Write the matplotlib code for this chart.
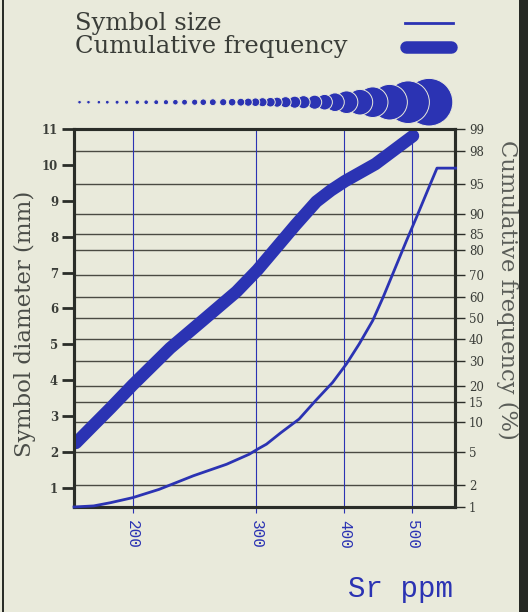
from statistics import NormalDist

import matplotlib
matplotlib.use("Agg")
import matplotlib.pyplot as plt
from matplotlib.patches import Rectangle
from matplotlib.ticker import FixedLocator, NullLocator
import numpy as np

# symbol size curve (left axis, mm)
sr_size = [165, 176, 186, 200, 218, 244, 272, 293, 301, 310, 325, 345, 364, 385,
           403, 420, 439, 454, 490, 506, 528, 542, 576]
size_mm = [0.47, 0.50, 0.59, 0.73, 0.96, 1.34, 1.66, 1.94, 2.08, 2.22, 2.54, 2.92,
           3.43, 3.94, 4.46, 5.01, 5.66, 6.3, 7.87, 8.51, 9.38, 9.91, 9.91]

# cumulative frequency curve (right axis, %)
sr_cum = [166, 176, 186, 200, 226, 252, 281, 301, 341, 365, 383, 401, 443, 501]
cum_pct = [6.2, 9.4, 13.4, 20.5, 35.5, 49.0, 62.7, 72.3, 87.4, 92.4, 94.2, 95.4, 97.1, 98.75]

# symbol row above the plot: Sr position and symbol diameter (px)
sym_sr = [168, 173, 179, 184, 190, 196, 203, 209, 216, 223, 230, 237, 245, 252, 260,
          269, 277, 285, 292, 299, 306, 314, 321, 330, 340, 350, 363, 375, 388, 403,
          421, 439, 464, 493, 528]
sym_diam = [3, 3, 3, 3.2, 3.4, 3.6, 3.8, 4, 4.3, 4.6, 5, 5.3, 5.6, 6, 6.3,
            6.6, 7, 7.3, 7.6, 8, 8.5, 9, 9.5, 10.5, 11.5, 12.5, 13.5, 15, 18, 22,
            25, 30, 35, 42, 47]

x_ticks = [200, 300, 400, 500]
left_ticks = list(range(1, 12))
right_ticks = [1, 2, 5, 10, 15, 20, 30, 40, 50, 60, 70, 80, 85, 90, 95, 98, 99]

BG = "#e9eadb"
BLUE = "#2b33b3"
INK = "#3a3d38"
nd = NormalDist()

_ppf = np.vectorize(lambda v: nd.inv_cdf(v / 100.0), otypes=[float])
_cdf = np.vectorize(lambda v: nd.cdf(v) * 100.0, otypes=[float])


def probit(p):
    p = np.clip(np.asarray(p, dtype=float), 1e-6, 100 - 1e-6)
    return _ppf(p)


def probit_inv(z):
    return _cdf(np.asarray(z, dtype=float))


fig = plt.figure(figsize=(5.28, 6.12), dpi=100, facecolor=BG)

ax1 = fig.add_axes([0.1402, 0.1716, 0.7216, 0.6176])
ax2 = ax1.twinx()
ax1.set_zorder(ax2.get_zorder() + 1)
ax1.patch.set_visible(False)
ax2.set_facecolor(BG)

# x axis
ax1.set_xscale("log")
ax1.set_xlim(165, 575)
ax1.xaxis.set_major_locator(FixedLocator(x_ticks))
ax1.xaxis.set_minor_locator(NullLocator())
ax1.set_xticklabels([str(t) for t in x_ticks], rotation=-90, color=BLUE,
                    family="Liberation Mono", fontsize=11.5, va="top", ha="center")
ax1.tick_params(axis="x", colors=BLUE, length=4.5, width=0.8, pad=5, labelcolor=BLUE)
ax1.grid(axis="x", color=BLUE, linewidth=0.8)

# left axis
ax1.set_ylim(0.47, 11)
ax1.set_yticks(left_ticks)
ax1.set_yticklabels([str(t) for t in left_ticks], family="DejaVu Serif",
                    fontsize=8.5, color=INK, fontweight="bold")
ax1.tick_params(axis="y", length=8.5, width=2, color="#2a2d28", pad=3)
ax1.set_ylabel("Symbol diameter (mm)", family="DejaVu Serif", fontsize=16.5,
               color="#4a4d48", va="center", ha="center", rotation_mode="anchor")
ax1.yaxis.set_label_coords(-0.1286, 0.484)

# right axis, probability scale
ax2.set_yscale("function", functions=(probit, probit_inv))
ax2.set_ylim(1, 99)
ax2.yaxis.set_major_locator(FixedLocator(right_ticks))
ax2.yaxis.set_minor_locator(NullLocator())
ax2.set_yticklabels([str(t) for t in right_ticks], family="DejaVu Serif",
                    fontsize=8.5, color=INK)
ax2.tick_params(axis="y", length=7, width=1, color="#2a2d28", pad=3)
ax2.grid(axis="y", color="#4a4a42", linewidth=1)
ax2.set_ylabel("Cumulative frequency (%)", family="DejaVu Serif", fontsize=16.3,
               color="#5a5d58", rotation=-90, va="center", ha="center",
               rotation_mode="anchor")
ax2.yaxis.set_label_coords(1.1365, 0.574)

for ax in (ax1, ax2):
    for s in ax.spines.values():
        s.set_linewidth(2.2)
        s.set_color("#2a2d28")

ax2.plot(sr_cum, cum_pct, color=BLUE, linewidth=9, solid_capstyle="round",
         solid_joinstyle="round", zorder=3)
ax1.plot(sr_size, size_mm, color=BLUE, linewidth=2, zorder=3, clip_on=False)

# symbol row, smaller symbols drawn on top of the larger ones
axr = fig.add_axes([0.1402, 0.797, 0.7216, 0.072], sharex=ax1)
axr.set_ylim(0, 1)
axr.axis("off")
d = np.array(sym_diam)[::-1]
axr.scatter(sym_sr[::-1], [0.5] * len(sym_sr), s=((d + 0.6) * 0.72) ** 2,
            color=BLUE, edgecolors=BG, linewidths=0.7, clip_on=False, zorder=3)

# legend
fig.text(75 / 528, 1 - 30 / 612, "Symbol size", family="DejaVu Serif",
         fontsize=17.5, color=INK, va="baseline")
fig.text(75 / 528, 1 - 53 / 612, "Cumulative frequency", family="DejaVu Serif",
         fontsize=17.5, color=INK, va="baseline")
fig.add_artist(plt.Line2D([405 / 528, 453 / 528], [1 - 23 / 612, 1 - 23 / 612],
                          color=BLUE, linewidth=2))
fig.add_artist(plt.Line2D([406 / 528, 451 / 528], [1 - 47 / 612, 1 - 47 / 612],
                          color=BLUE, linewidth=9, solid_capstyle="round"))

fig.text(453 / 528, 1 - 597 / 612, "Sr ppm", family="Liberation Mono",
         fontsize=21, color=BLUE, ha="right", va="baseline")

# frame
fig.add_artist(Rectangle((2 / 528, 0), 2 / 528, 1, transform=fig.transFigure,
                         color="#2a2d28", lw=0))
fig.add_artist(Rectangle((519 / 528, 0), 9 / 528, 1, transform=fig.transFigure,
                         color="#262924", lw=0))

fig.savefig("out.png", dpi=100, facecolor=BG)
